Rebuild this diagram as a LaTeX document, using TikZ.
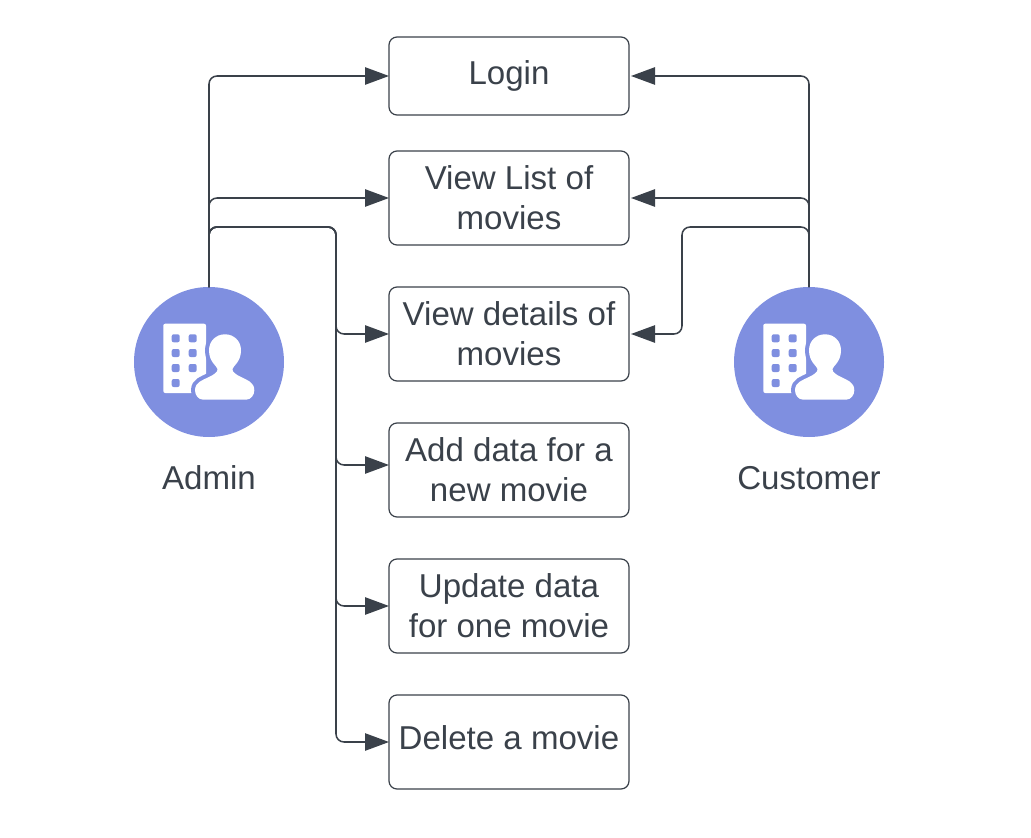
\documentclass[tikz,border=0pt]{standalone}
\usepackage{fontspec}
\setmainfont{Liberation Sans}
\usetikzlibrary{arrows.meta,positioning,shapes}
\definecolor{inkgrey}{HTML}{3A414A}
\definecolor{iconblue}{HTML}{7F8FE0}
\newcommand{\personoutline}{(-5.7,37.7) -- (37,37.7)
      .. controls (42,37.7) and (45.3,33) .. (45.3,28.3)
      .. controls (45.3,20) and (38,18) .. (32,15)
      .. controls (27,12.5) and (23,10) .. (23.5,7)
      .. controls (24,4) and (32,0) .. (32,-11.7)
      .. controls (32,-21) and (25,-27.7) .. (16,-27.7)
      .. controls (7,-27.7) and (0,-21) .. (0,-11.7)
      .. controls (0,0) and (8,4) .. (8.5,7)
      .. controls (9,10) and (5,12.5) .. (0,15)
      .. controls (-6,18) and (-14,20) .. (-14,28.3)
      .. controls (-14,33) and (-10.7,37.7) .. (-5.7,37.7) -- cycle}
\tikzset{
  task/.style={draw=inkgrey,rectangle,rounded corners=6pt,line width=.9pt,minimum width=180pt,inner sep=0pt,outer sep=0pt,align=center,text=inkgrey,font=\fontsize{24.8}{30}\selectfont},
  actor/.style={circle,fill=iconblue,minimum size=112.5pt,inner sep=0pt,outer sep=0pt},
  actorname/.style={text=inkgrey,font=\fontsize{24.8}{30}\selectfont},
  link/.style={draw=inkgrey,line width=1.15pt,rounded corners=6pt,-{Triangle[length=18pt,width=13pt]}},
  pics/officeperson/.style={code={
    \fill[white,rounded corners=1.5pt] (-45.7,-38.3) rectangle (-3,31);
    \foreach \wx/\wy in {-33.3/-23.7,-16.3/-23.7,-33.3/-9,-16.3/-9,-33.3/6,-16.3/6,-33.3/21}
      \fill[iconblue,rounded corners=1.5pt] (\wx-4,\wy-4) rectangle (\wx+4,\wy+4);
    \path[fill=iconblue,draw=iconblue,line width=6pt,line join=round] \personoutline;
    \path[fill=white] \personoutline;
  }}
}
\begin{document}
\begin{tikzpicture}[x=.75pt,y=-.75pt]
\useasboundingbox (0,0) rectangle (1031,838);
\node[task,minimum height=58.5pt] (login) at (509,76) {\raisebox{3pt}{Login}};
\node[task,minimum height=70.5pt] (viewlist) at (509,198) {View List of\\movies};
\node[task,minimum height=70.5pt] (viewdetails) at (509,334) {View details of\\movies};
\node[task,minimum height=70.5pt] (adddata) at (509,470) {Add data for a\\new movie};
\node[task,minimum height=70.5pt] (updatedata) at (509,606) {Update data\\for one movie};
\node[task,minimum height=70.5pt] (deletemovie) at (509,742) {\raisebox{7pt}{Delete a movie}};
\node[actor] (admin) at (209,362) {};
\node[actor] (customer) at (809,362) {};
\pic at (admin) {officeperson};
\pic at (customer) {officeperson};
\node[actorname] (adminname) at (209,478) {Admin};
\node[actorname] (customername) at (809,478) {Customer};
\coordinate (adminbus) at (336,227);
\coordinate (customerbus) at (682,227);
\draw[link] (admin.north) |- (login.west);
\draw[link] (admin.north) |- (viewlist.west);
\draw[link] (admin.north) |- (adminbus) |- (viewdetails.west);
\draw[link] (admin.north) |- (adminbus) |- ([yshift=3.75pt]adddata.west);
\draw[link] (admin.north) |- (adminbus) |- (updatedata.west);
\draw[link] (admin.north) |- (adminbus) |- (deletemovie.west);
\draw[link,shorten >=1.5pt] (customer.north) |- (login.east);
\draw[link,shorten >=1.5pt] (customer.north) |- (viewlist.east);
\draw[link,shorten >=1.5pt] (customer.north) |- (customerbus) |- (viewdetails.east);
\end{tikzpicture}
\end{document}
